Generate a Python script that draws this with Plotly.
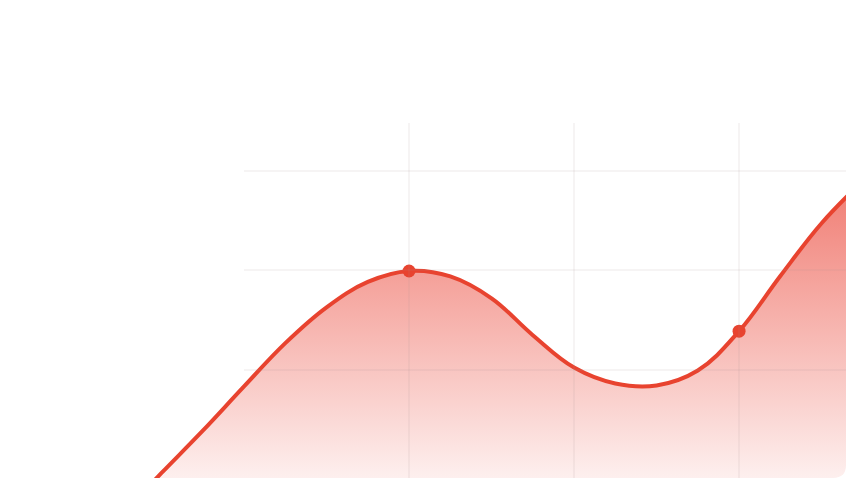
import plotly.graph_objects as go

# values (x in grid steps, y in grid units)
x_vals = [-1.0, -0.75, -0.5, -0.25, 0.0, 0.25, 0.5, 0.75, 1.0, 1.25, 1.5, 1.75,
          2.0, 2.25, 2.5, 2.75, 3.0, 3.25, 3.5, 3.75]
y_vals = [2.0, 10.7, 19.3, 27.8, 36.7, 45.4, 52.6, 57.7, 59.9, 58.8, 54.4, 47.0,
          40.5, 37.3, 36.9, 39.9, 47.8, 58.9, 69.5, 78.0]

marker_x = [1.0, 3.0]
marker_y = [59.9, 47.8]

grid_x = [1, 2, 3]
grid_y = [40, 60, 80]

red = "#e8432f"

fig = go.Figure()

fig.add_trace(go.Scatter(
    x=x_vals, y=y_vals,
    mode="lines",
    line=dict(color=red, width=4, shape="spline", smoothing=1.1),
    fill="tozeroy",
    fillgradient=dict(
        type="vertical",
        start=18,
        stop=90,
        colorscale=[[0, "rgba(234,67,53,0.08)"], [1, "rgba(234,67,53,0.82)"]],
    ),
    hoverinfo="skip",
    showlegend=False,
))

fig.add_trace(go.Scatter(
    x=marker_x, y=marker_y,
    mode="markers",
    marker=dict(color=red, size=13),
    hoverinfo="skip",
    showlegend=False,
))

# empty trace so the grid subplot gets drawn (on top of the fill)
fig.add_trace(go.Scatter(x=[], y=[], xaxis="x2", yaxis="y2",
                         hoverinfo="skip", showlegend=False))

grid_col = "rgba(170,150,150,0.1)"

fig.update_layout(
    width=846, height=478,
    margin=dict(l=0, r=0, t=0, b=0),
    paper_bgcolor="white",
    plot_bgcolor="rgba(0,0,0,0)",
    xaxis=dict(range=[-1.479, 3.648], showgrid=False, zeroline=False,
               showticklabels=False, fixedrange=True),
    yaxis=dict(range=[18.29, 114.37], showgrid=False, zeroline=False,
               showticklabels=False, fixedrange=True),
    xaxis2=dict(domain=[0.2884, 1], range=[0, 3.648], anchor="y2",
                tickvals=grid_x, showticklabels=False, ticks="",
                showgrid=True, gridcolor=grid_col, gridwidth=2,
                zeroline=False, showline=False, fixedrange=True),
    yaxis2=dict(domain=[0, 0.7427], range=[18.29, 89.65], anchor="x2",
                tickvals=grid_y, showticklabels=False, ticks="",
                showgrid=True, gridcolor=grid_col, gridwidth=2,
                zeroline=False, showline=False, fixedrange=True),
    shapes=[dict(
        type="path", xref="paper", yref="paper",
        path="M 1,0 L 1,0.027 Q 1,0 0.9846,0 Z",
        fillcolor="white", line=dict(width=0), layer="above",
    )],
)

fig.write_html("out.html", config={"displayModeBar": False},
               post_script="document.body.style.margin='0';"
                           "document.body.style.overflow='hidden';")
